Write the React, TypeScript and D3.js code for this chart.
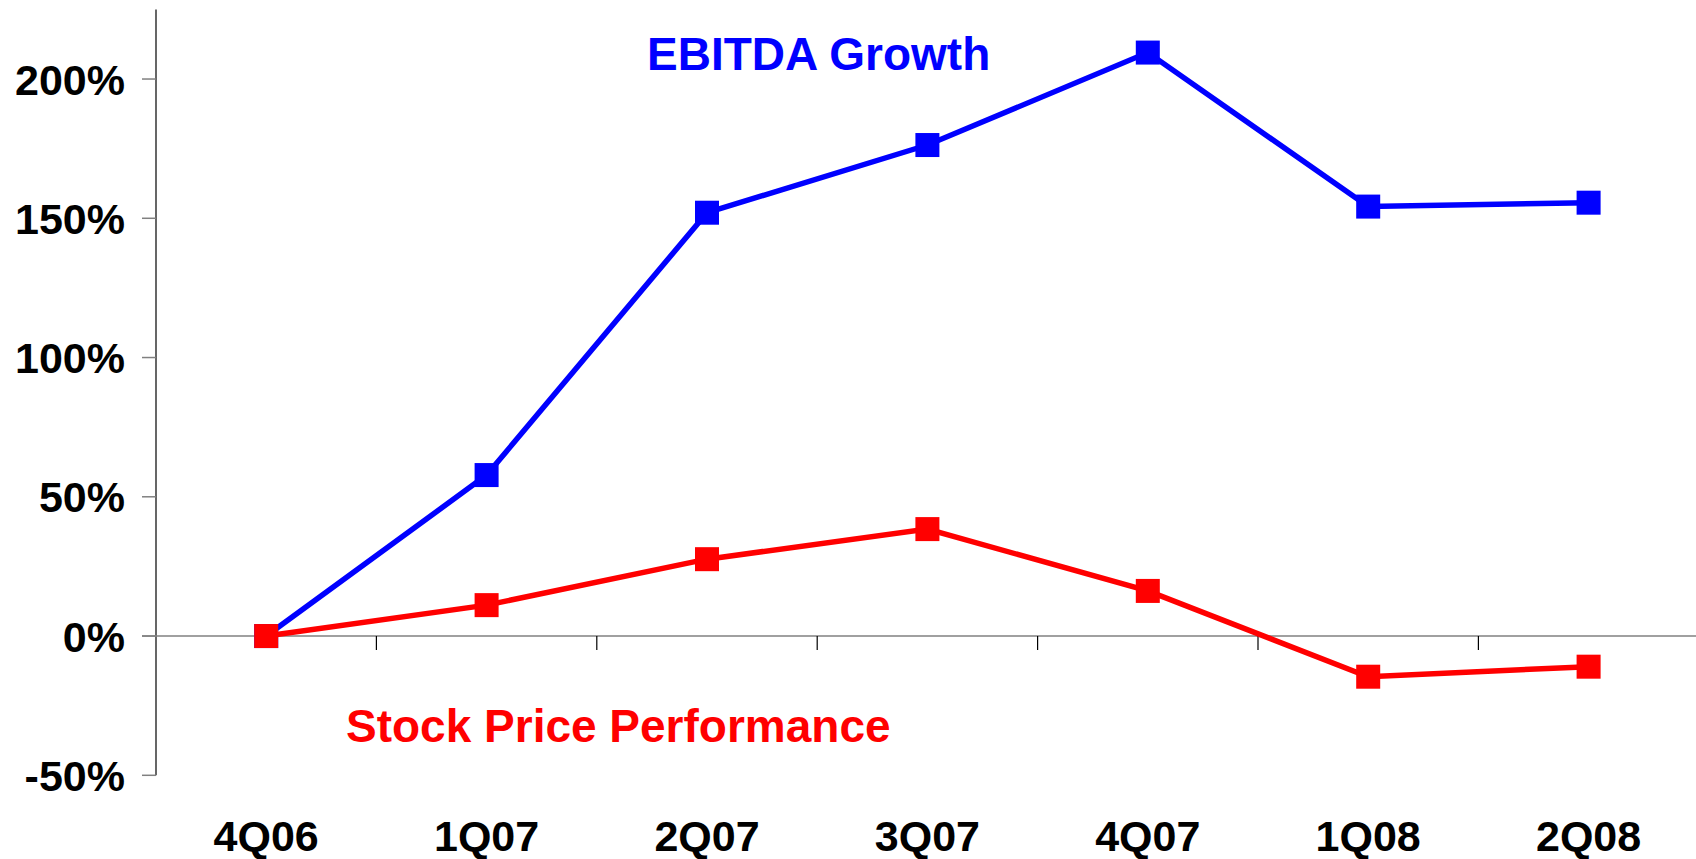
import React from "react";
import * as d3 from "d3";

const categories = ["4Q06", "1Q07", "2Q07", "3Q07", "4Q07", "1Q08", "2Q08"];
const ebitdaGrowth = [0, 57.8, 152.0, 176.3, 209.5, 154.2, 155.6];
const stockPerformance = [0, 11.1, 27.6, 38.4, 16.2, -14.6, -11.0];
const yTicks = [-50, 0, 50, 100, 150, 200];
const yDomain: [number, number] = [-50, 225];

const W = 1696;
const H = 859;
const FONT = "'Liberation Sans', Arial, Helvetica, sans-serif";

export default function App() {
  const x = d3.scaleBand<string>().domain(categories).range([156, 156 + 7 * 220.4]).padding(0);
  const y = d3.scaleLinear().domain(yDomain).range([775.3, 9.4]);
  const cx = (c: string) => (x(c) as number) + x.bandwidth() / 2;

  const line = d3
    .line<number>()
    .x((_, i) => cx(categories[i]))
    .y((d) => y(d));

  const series = [
    { values: ebitdaGrowth, color: "#0000FF" },
    { values: stockPerformance, color: "#FF0000" },
  ];
  const ms = 24;
  const boundaries = categories.slice(1).map((c) => x(c) as number);

  return (
    <svg
      width={W}
      height={H}
      style={{ position: "absolute", left: 0, top: 0, background: "#fff" }}
      fontFamily={FONT}
    >
      <rect x={0} y={0} width={W} height={H} fill="#fff" />
      {/* y axis */}
      <line x1={156} x2={156} y1={y(yDomain[1])} y2={y(yDomain[0])} stroke="#000" strokeWidth={1.2} />
      {yTicks.map((t) => (
        <g key={t}>
          <line x1={142} x2={156} y1={y(t)} y2={y(t)} stroke="#808080" strokeWidth={1.5} />
          <text
            x={125}
            y={y(t) + 15.5}
            textAnchor="end"
            fontSize={43}
            fontWeight="bold"
            fill="#000"
          >
            {t}%
          </text>
        </g>
      ))}
      {/* x axis at 0 */}
      <line x1={142} x2={W} y1={y(0)} y2={y(0)} stroke="#808080" strokeWidth={1.6} />
      {boundaries.map((b, i) => (
        <line key={i} x1={b} x2={b} y1={y(0)} y2={y(0) + 14} stroke="#000" strokeWidth={1.2} />
      ))}
      {categories.map((c) => (
        <text key={c} x={cx(c)} y={851} textAnchor="middle" fontSize={43} fontWeight="bold" fill="#000">
          {c}
        </text>
      ))}
      {/* series */}
      {series.map((s, si) => (
        <g key={si}>
          <path d={line(s.values) as string} fill="none" stroke={s.color} strokeWidth={5.5} strokeLinejoin="miter" />
          {s.values.map((v, i) => (
            <rect
              key={i}
              x={cx(categories[i]) - ms / 2}
              y={y(v) - ms / 2}
              width={ms}
              height={ms}
              fill={s.color}
            />
          ))}
        </g>
      ))}
      <text x={647} y={70} fontSize={46} fontWeight="bold" fill="#0000FF">
        EBITDA Growth
      </text>
      <text x={346} y={742} fontSize={46} fontWeight="bold" fill="#FF0000">
        Stock Price Performance
      </text>
    </svg>
  );
}
